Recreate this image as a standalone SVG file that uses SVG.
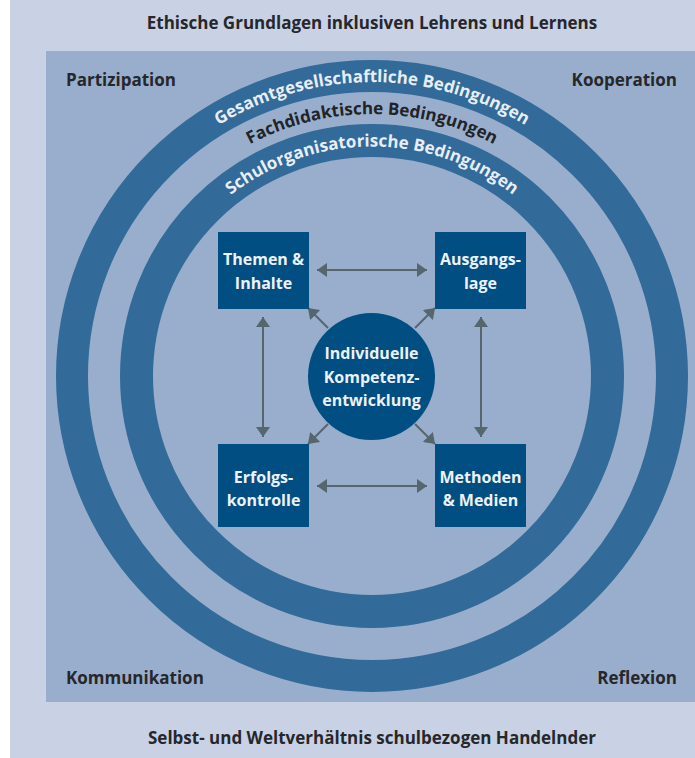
<svg xmlns="http://www.w3.org/2000/svg" width="695" height="758" viewBox="0 0 695 758">
  <style>
    .lbl { font-family: "Open Sans", "Liberation Sans", sans-serif; font-weight: 700; font-size: 17px; fill: #26272b; }
    .box { fill: #004e82; }
    .boxtxt { font-family: "Open Sans", "Liberation Sans", sans-serif; font-weight: 700; font-size: 16px; fill: #eef2f7; text-anchor: middle; dominant-baseline: central; }
    .ring { fill: none; stroke: #326a99; }
    .arc { font-family: "Open Sans", "Liberation Sans", sans-serif; font-weight: 700; font-size: 17px; }
    .conn { stroke: #56666f; stroke-width: 2; fill: none; marker-start: url(#head); marker-end: url(#head); }
    .one { stroke: #56666f; stroke-width: 2; fill: none; marker-end: url(#head); }
  </style>
  <defs>
    <marker id="head" viewBox="0 0 10 14" refX="10" refY="7" markerWidth="10" markerHeight="14" markerUnits="userSpaceOnUse" orient="auto-start-reverse">
      <path d="M0,0 L10,7 L0,14 Z" fill="#56666f"/>
    </marker>
    <path id="arcOuter" d="M78,376 A294,294 0 0 1 666,376"/>
    <path id="arcMid" d="M110,376 A262,262 0 0 1 634,376"/>
    <path id="arcInner" d="M142.5,376 A229.5,229.5 0 0 1 601.5,376"/>
  </defs>

  <!-- backgrounds -->
  <rect x="10" y="0" width="685" height="758" fill="#c8d2e4"/>
  <rect x="46" y="51" width="649" height="651" fill="#98aecc"/>

  <!-- frame labels -->
  <text class="lbl" x="372" y="22" text-anchor="middle" dominant-baseline="central">Ethische Grundlagen inklusiven Lehrens und Lernens</text>
  <text class="lbl" x="372" y="737" text-anchor="middle" dominant-baseline="central">Selbst- und Weltverhältnis schulbezogen Handelnder</text>
  <text class="lbl" x="66" y="79" dominant-baseline="central">Partizipation</text>
  <text class="lbl" x="677" y="79" text-anchor="end" dominant-baseline="central">Kooperation</text>
  <text class="lbl" x="66" y="677" dominant-baseline="central">Kommunikation</text>
  <text class="lbl" x="677" y="677" text-anchor="end" dominant-baseline="central">Reflexion</text>

  <!-- condition rings -->
  <g id="rings">
    <circle class="ring" cx="372" cy="376" r="300" stroke-width="32"/>
    <circle class="ring" cx="372" cy="376" r="235.5" stroke-width="33"/>
    <text class="arc" fill="#e8eef5"><textPath href="#arcOuter" startOffset="50%" text-anchor="middle">Gesamtgesellschaftliche Bedingungen</textPath></text>
    <text class="arc" fill="#222326"><textPath href="#arcMid" startOffset="50%" text-anchor="middle">Fachdidaktische Bedingungen</textPath></text>
    <text class="arc" fill="#e8eef5"><textPath href="#arcInner" startOffset="50%" text-anchor="middle">Schulorganisatorische Bedingungen</textPath></text>
  </g>

  <!-- connectors -->
  <g id="connectors">
    <line class="conn" x1="317" y1="270" x2="427" y2="270"/>
    <line class="conn" x1="317" y1="486" x2="427" y2="486"/>
    <line class="conn" x1="263" y1="317" x2="263" y2="437"/>
    <line class="conn" x1="481" y1="317" x2="481" y2="437"/>
    <line class="one" x1="328" y1="328" x2="308" y2="308"/>
    <line class="one" x1="415" y1="328" x2="435" y2="308"/>
    <line class="one" x1="328" y1="424" x2="308" y2="444"/>
    <line class="one" x1="415" y1="424" x2="435" y2="444"/>
  </g>

  <!-- nodes -->
  <g id="themen">
    <rect class="box" x="218" y="232" width="91" height="77"/>
    <text class="boxtxt" x="263.5" y="259">Themen &amp;</text>
    <text class="boxtxt" x="263.5" y="283">Inhalte</text>
  </g>
  <g id="ausgangslage">
    <rect class="box" x="435" y="232" width="91" height="77"/>
    <text class="boxtxt" x="480.5" y="259">Ausgangs-</text>
    <text class="boxtxt" x="480.5" y="283">lage</text>
  </g>
  <g id="erfolgskontrolle">
    <rect class="box" x="218" y="444" width="91" height="83"/>
    <text class="boxtxt" x="263.5" y="477">Erfolgs-</text>
    <text class="boxtxt" x="263.5" y="500">kontrolle</text>
  </g>
  <g id="methoden">
    <rect class="box" x="435" y="444" width="91" height="83"/>
    <text class="boxtxt" x="480.5" y="477">Methoden</text>
    <text class="boxtxt" x="480.5" y="500">&amp; Medien</text>
  </g>
  <g id="kompetenz">
    <circle cx="371.5" cy="376.5" r="63.5" fill="#004e82"/>
    <text class="boxtxt" x="371.5" y="353">Individuelle</text>
    <text class="boxtxt" x="371.5" y="377">Kompetenz-</text>
    <text class="boxtxt" x="371.5" y="400">entwicklung</text>
  </g>
</svg>
